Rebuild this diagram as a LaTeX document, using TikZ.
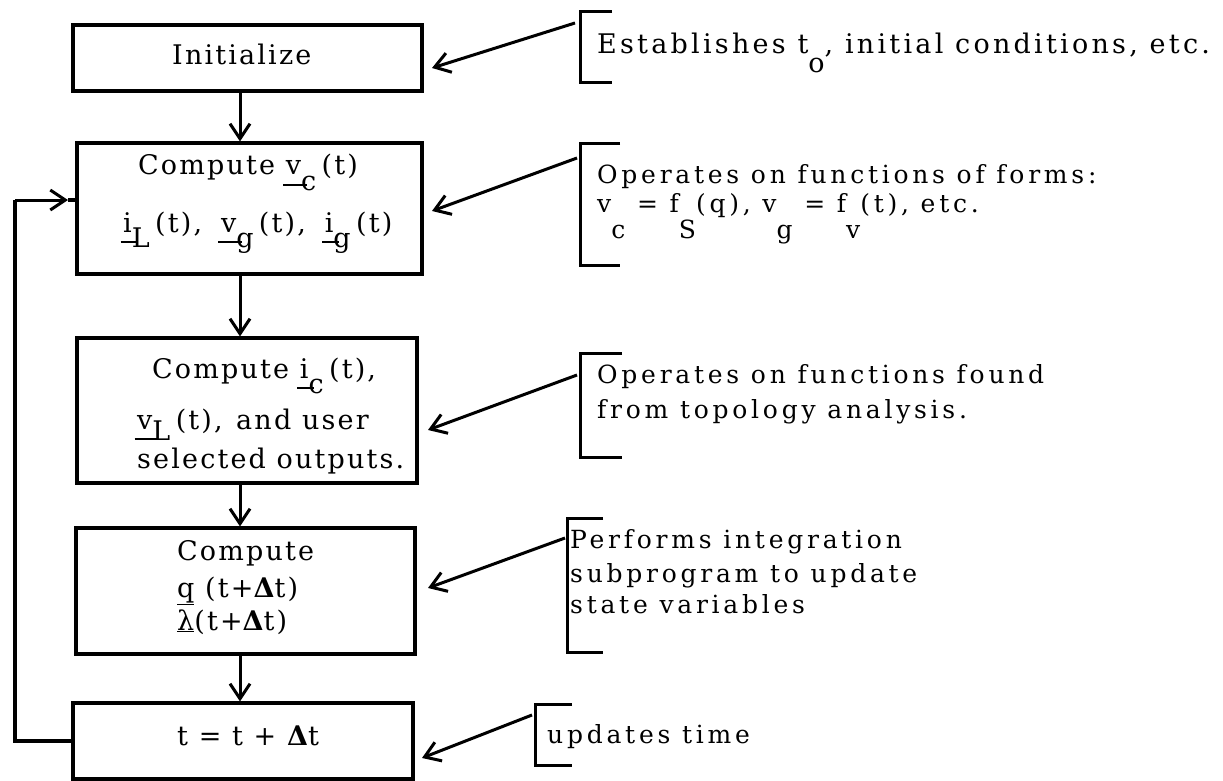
\documentclass[tikz,border=0pt]{standalone}
\usepackage{fontspec}
\setmainfont{DejaVu Serif}
\newfontfamily\boxfont{DejaVu Serif}[LetterSpace=8]
\newfontfamily\notefont{DejaVu Serif}[LetterSpace=15]
\newfontfamily\notefontb{DejaVu Serif}[LetterSpace=12]
\usetikzlibrary{arrows.meta}
\newcommand\lsub[2][0.75em]{\raisebox{-#1}{#2}}
\newcommand\usub[3][0.58em]{\setbox0\hbox{#2}\rlap{\kern-0.1em\rule[-0.4em]{\dimexpr\wd0+0.3em\relax}{1.8pt}}\box0\raisebox{-#1}{#3}\kern0.2em}
\begin{document}
\begin{tikzpicture}[x=1pt,y=-1pt,
  box/.style={draw, line width=3.2pt, inner sep=0pt, rectangle},
  flow/.style={line width=3.2pt},
  arr/.style={line width=3pt,-{Straight Barb[length=15pt,width=20pt]}},
  brk/.style={line width=3pt},
  btxt/.style={anchor=base west, inner sep=0pt, font=\boxfont\fontsize{27}{31}\selectfont},
  ntxt/.style={anchor=base west, inner sep=0pt, font=\notefont\fontsize{25}{29}\selectfont}]
\useasboundingbox (0,0) rectangle (1223,781);
% boxes
\node[box, minimum width=349pt, minimum height=66pt] (b1) at (247.5,58) {};
\node[box, minimum width=345pt, minimum height=131pt] (b2) at (249.5,208.5) {};
\node[box, minimum width=340pt, minimum height=145pt] (b3) at (247,410.5) {};
\node[box, minimum width=339pt, minimum height=126pt] (b4) at (245.5,591) {};
\node[box, minimum width=340pt, minimum height=76pt] (b5) at (243,741) {};
% box texts
\node[btxt] (t1) at (172,65) {Initialize};
\node[btxt] (t2a) at (138,175) {Compute \usub{v}{c}(t)};
\node[btxt] (t2b) at (123,232) {\usub{i}{L}(t),\hspace{0.7em}\usub{v}{g}(t),\hspace{0.7em}\usub{i}{g}(t)};
\node[btxt] (t3a) at (152,378) {Compute \usub{i}{c}(t),};
\node[btxt] (t3b) at (137,429) {\usub[0.42em]{v}{L}(t),\hspace{0.5em}and user};
\node[btxt] (t3c) at (137,468) {selected outputs.};
\node[btxt] (t4a) at (177,560) {Compute};
\node[btxt] (t4b) at (177,597) {\underline{q} (t+{\bfseries Δ}t)};
\node[btxt] (t4c) at (177,630) {\underline{λ}(t+{\bfseries Δ}t)};
\node[btxt] (t5) at (177,745) {t = t + {\bfseries Δ}t};
% flow arrows
\coordinate (ax) at (240,0);
\draw[arr] (b1.south -| ax) -- (b2.north -| ax);
\draw[arr] (b2.south -| ax) -- (b3.north -| ax);
\draw[arr] (b3.south -| ax) -- (b4.north -| ax);
\draw[arr] (b4.south -| ax) -- (b5.north -| ax);
% feedback
\coordinate (fbc) at (15,200);
\coordinate (fbtip) at (68,200);
\draw[flow] (b5.west) -| (fbc);
\draw[arr] (fbc) -- (fbtip);
\draw[flow] (fbtip) -- (b2.west |- fbtip);
% brackets
\draw[brk] (612,12) -- (580,12) -- (580,83) -- (612,83);
\draw[brk] (620,144) -- (580,144) -- (580,265) -- (620,265);
\draw[brk] (622,353) -- (580,353) -- (580,457) -- (622,457);
\draw[brk] (603,518) -- (567,518) -- (567,652) -- (603,652);
\draw[brk] (572,704) -- (535,704) -- (535,765) -- (572,765);
% notes
\node[ntxt, font=\notefontb\fontsize{27}{31}\selectfont] (n1) at (597,54) {Establishes t\lsub[0.7em]{o}, initial conditions, etc.};
\node[ntxt] (n2a) at (597,183) {Operates on functions of forms:};
\node[ntxt] (n2b) at (597,212) {v\lsub[1.05em]{c} = f\lsub[1.05em]{S}(q), v\lsub[1.05em]{g} = f\lsub[1.05em]{v}(t), etc.};
\node[ntxt] (n3a) at (597,383) {Operates on functions found};
\node[ntxt] (n3b) at (597,418) {from topology analysis.};
\node[ntxt] (n4a) at (570,548) {Performs integration};
\node[ntxt] (n4b) at (570,582) {subprogram to update};
\node[ntxt] (n4c) at (570,613) {state variables};
\node[ntxt] (n5) at (547,743) {updates time};
% note arrows
\coordinate (s1) at (575,23);  \coordinate (e1) at (432,68);
\coordinate (s2) at (577,158); \coordinate (e2) at (432,211);
\coordinate (s3) at (577,375); \coordinate (e3) at (428,430);
\coordinate (s4) at (565,538); \coordinate (e4) at (428,588);
\coordinate (s5) at (532,715); \coordinate (e5) at (422,758);
\draw[arr] (s1) -- (e1);
\draw[arr] (s2) -- (e2);
\draw[arr] (s3) -- (e3);
\draw[arr] (s4) -- (e4);
\draw[arr] (s5) -- (e5);
\end{tikzpicture}
\end{document}
